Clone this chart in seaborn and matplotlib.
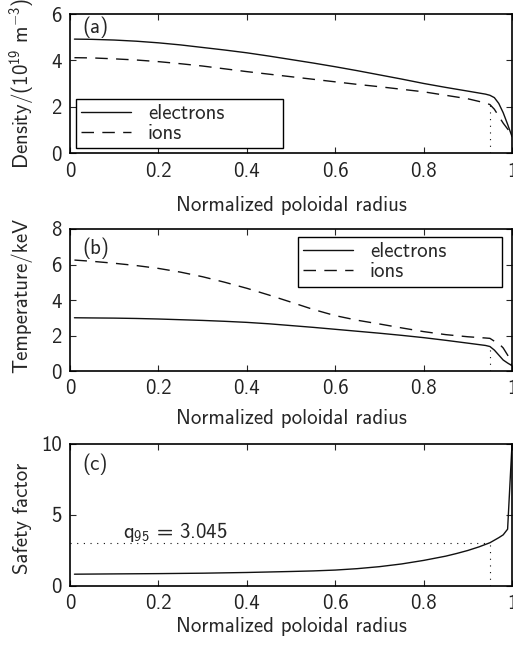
import numpy as np
import pandas as pd
import seaborn as sns
import matplotlib
matplotlib.use("Agg")
import matplotlib.pyplot as plt

# radial grid used for the density and temperature profiles
rho = [0.01, 0.05, 0.1, 0.15, 0.2, 0.25, 0.3, 0.35, 0.4, 0.45, 0.5, 0.55, 0.6, 0.65, 0.7,
       0.75, 0.8, 0.85, 0.9, 0.94, 0.95, 0.96, 0.97, 0.98, 0.99, 1.0]
dens_e = [4.92, 4.91, 4.88, 4.83, 4.76, 4.67, 4.56, 4.45, 4.33, 4.19, 4.04, 3.89, 3.73, 3.56,
          3.38, 3.2, 3.01, 2.84, 2.68, 2.55, 2.5, 2.4, 2.15, 1.75, 1.25, 0.72]
dens_i = [4.12, 4.11, 4.07, 4.02, 3.95, 3.86, 3.76, 3.64, 3.52, 3.41, 3.3, 3.19, 3.08, 2.97,
          2.87, 2.76, 2.65, 2.5, 2.35, 2.17, 2.1, 1.9, 1.6, 1.3, 1.05, 0.8]
temp_e = [3.0, 2.99, 2.98, 2.96, 2.93, 2.89, 2.85, 2.8, 2.74, 2.66, 2.56, 2.46, 2.35, 2.24,
          2.13, 2.01, 1.88, 1.73, 1.57, 1.44, 1.38, 1.18, 0.9, 0.62, 0.45, 0.3]
temp_i = [6.25, 6.18, 6.07, 5.94, 5.78, 5.57, 5.31, 5.0, 4.66, 4.28, 3.88, 3.47, 3.12, 2.86,
          2.65, 2.43, 2.22, 2.05, 1.93, 1.86, 1.84, 1.68, 1.55, 1.3, 0.9, 0.34]

# safety factor profile
rho_q = [0.01, 0.1, 0.2, 0.3, 0.4, 0.5, 0.55, 0.6, 0.65, 0.7, 0.75, 0.8, 0.85, 0.875, 0.9,
         0.925, 0.95, 0.97, 0.98, 0.99, 1.0]
safety = [0.83, 0.85, 0.87, 0.9, 0.95, 1.02, 1.06, 1.12, 1.22, 1.36, 1.55, 1.8, 2.1, 2.29, 2.5,
          2.75, 3.045, 3.4, 3.6, 4.0, 10.0]

rho95 = 0.95
q95 = 3.045

x_ticks = [0, 0.2, 0.4, 0.6, 0.8, 1]
x_ticklabels = ["0", "0.2", "0.4", "0.6", "0.8", "1"]

sns.set_style("ticks", {"xtick.direction": "in", "ytick.direction": "in",
                        "axes.edgecolor": "black"})
plt.rcParams["font.family"] = ["cmss10", "DejaVu Sans"]
plt.rcParams["mathtext.fontset"] = "custom"
plt.rcParams["mathtext.rm"] = "cmss10"
plt.rcParams["mathtext.sf"] = "cmss10"
plt.rcParams["mathtext.fallback"] = "cm"
plt.rcParams["axes.unicode_minus"] = False
fs = 15
plt.rcParams["font.size"] = fs

fig = plt.figure(figsize=(5.13, 6.5), dpi=100)
ax_a = fig.add_axes([0.1365, 0.7641, 0.8616, 0.2143])
ax_b = fig.add_axes([0.1365, 0.4292, 0.8616, 0.2185])
ax_c = fig.add_axes([0.1365, 0.0985, 0.8616, 0.2185])

dash = (0, (9, 6))
dot = (0, (1, 5))
lc = "#111111"

prof = pd.DataFrame({"rho": rho, "ne": dens_e, "ni": dens_i, "te": temp_e, "ti": temp_i})
qprof = pd.DataFrame({"rho": rho_q, "q": safety})

leg_kw = dict(mode="expand", fancybox=False, edgecolor="black", framealpha=1,
              handlelength=2.4, borderpad=0.25, labelspacing=0.05, borderaxespad=0,
              fontsize=fs)

# (a) density
sns.lineplot(data=prof, x="rho", y="ne", ax=ax_a, color=lc, lw=1, label="electrons")
sns.lineplot(data=prof, x="rho", y="ni", ax=ax_a, color=lc, lw=1, linestyle=dash, label="ions")
ax_a.vlines(rho95, 0, prof.loc[prof.rho == rho95, "ni"].iloc[0], color=lc, lw=0.8, linestyle=dot)
ax_a.set_ylim(0, 6)
ax_a.set_yticks([0, 2, 4, 6])
ax_a.set_ylabel("Density/(10$^{19}$ m$^{-3}$)")
ax_a.legend(loc="lower left", bbox_to_anchor=(0.0136, 0.038, 0.468, 0.366), **leg_kw)

# (b) temperature
sns.lineplot(data=prof, x="rho", y="te", ax=ax_b, color=lc, lw=1, label="electrons")
sns.lineplot(data=prof, x="rho", y="ti", ax=ax_b, color=lc, lw=1, linestyle=dash, label="ions")
ax_b.vlines(rho95, 0, prof.loc[prof.rho == rho95, "te"].iloc[0], color=lc, lw=0.8, linestyle=dot)
ax_b.set_ylim(0, 8)
ax_b.set_yticks([0, 2, 4, 6, 8])
ax_b.set_ylabel("Temperature/keV")
ax_b.legend(loc="upper left", bbox_to_anchor=(0.516, 0.577, 0.4615, 0.366), **leg_kw)

# (c) safety factor
sns.lineplot(data=qprof, x="rho", y="q", ax=ax_c, color=lc, lw=1)
ax_c.hlines(q95, 0, rho95, color=lc, lw=0.8, linestyle=dot)
ax_c.vlines(rho95, 0, q95, color=lc, lw=0.8, linestyle=dot)
ax_c.text(0.12, 3.37, "q$_{95}$ = 3.045", fontsize=fs, va="baseline")
ax_c.set_ylim(0, 10)
ax_c.set_yticks([0, 5, 10])
ax_c.set_ylabel("Safety factor")

panels = [ax_a, ax_b, ax_c]
tags = ["(a)", "(b)", "(c)"]
tag_y = [0.98, 0.94, 0.93]
xlab_pad = [11, 8, 3]
ylab_pos = [(-0.076, 0.5), (-0.085, 0.535), (-0.085, 0.475)]

for ax, tag, ty, lp, yl in zip(panels, tags, tag_y, xlab_pad, ylab_pos):
    ax.set_xlim(0, 1)
    ax.set_xticks(x_ticks)
    ax.set_xticklabels(x_ticklabels)
    ax.set_xlabel("Normalized poloidal radius", labelpad=lp)
    ax.tick_params(direction="in", length=4, width=0.8, top=True, right=True,
                   labelsize=fs, pad=6, labelcolor="#222222")
    for s in ax.spines.values():
        s.set_visible(True)
        s.set_linewidth(1.2)
    ax.yaxis.set_label_coords(*yl)
    ax.text(0.027, ty, tag, transform=ax.transAxes, va="top", ha="left", fontsize=fs)

fig.savefig("out.png", dpi=100)
